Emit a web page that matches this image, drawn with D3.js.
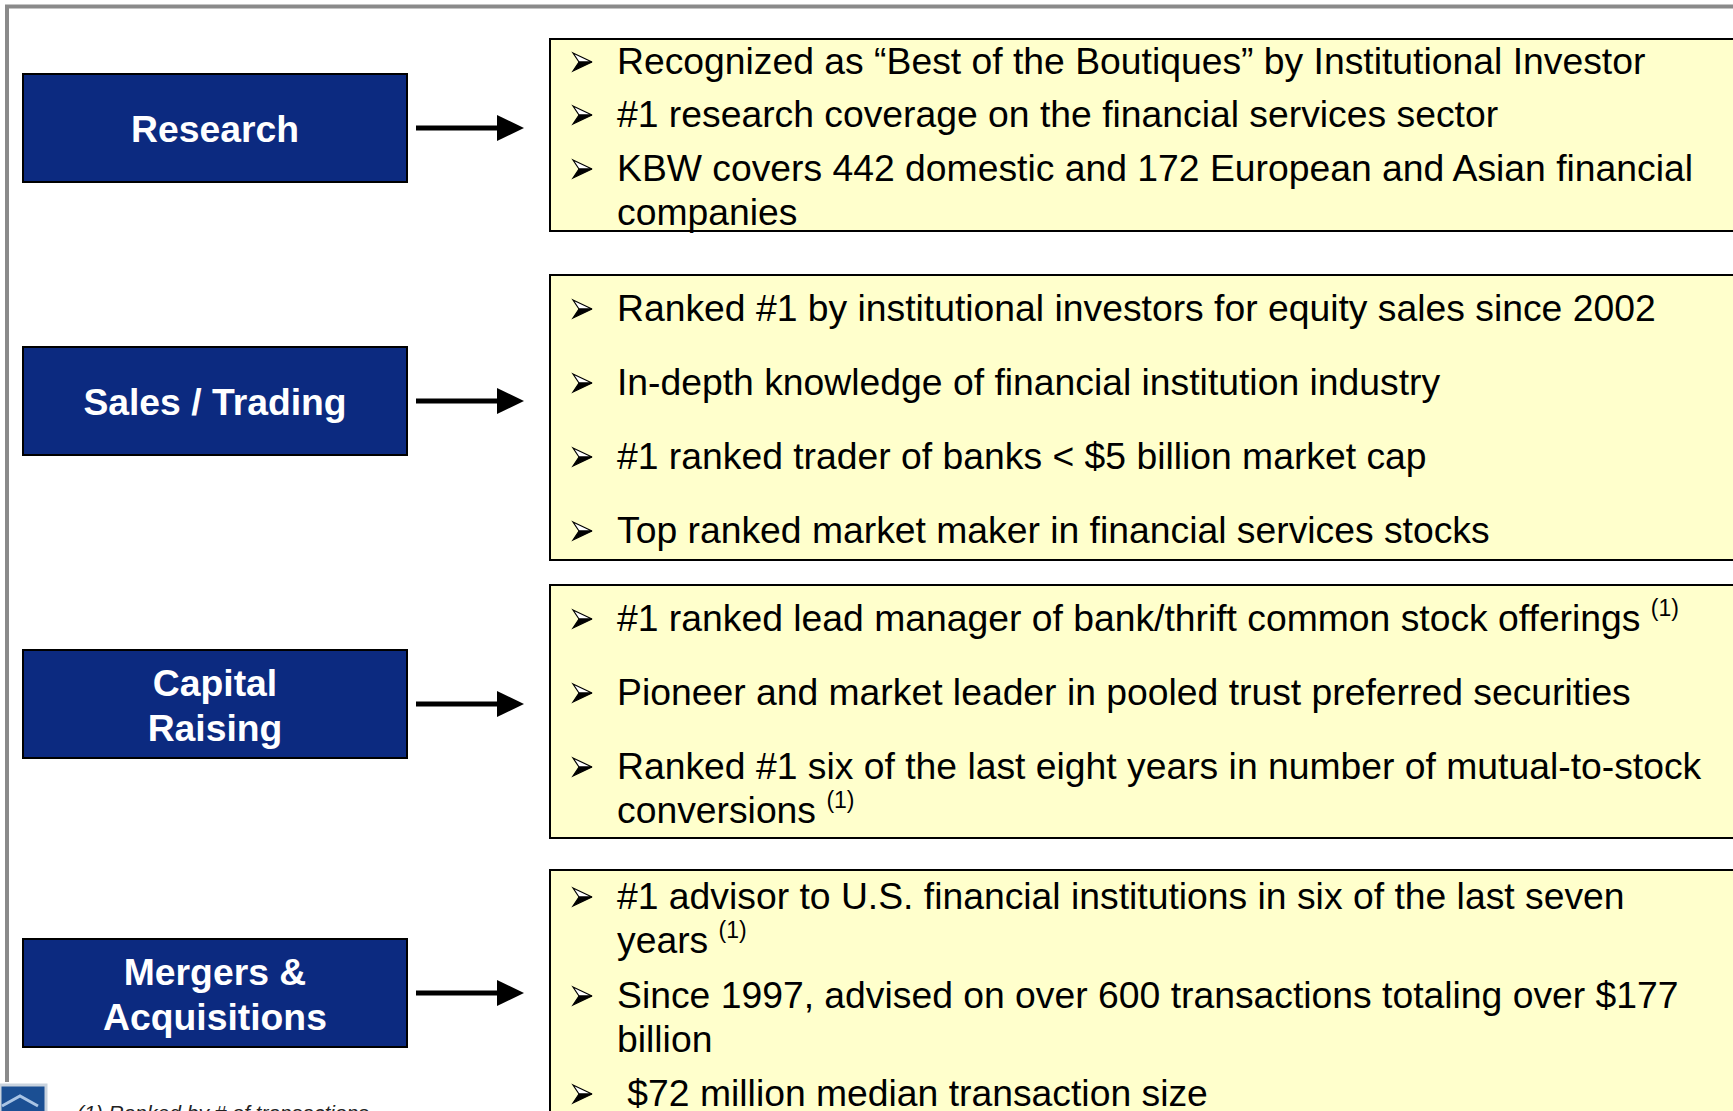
<!DOCTYPE html>
<html>
<head>
<meta charset="utf-8">
<script src="https://cdn.jsdelivr.net/npm/d3@7"></script>
<style>
  body { margin: 0; background: #fff; }
  svg { display: block; font-family: "Liberation Sans", Arial, sans-serif; }
  text { white-space: pre; }
</style>
</head>
<body>
<div id="chart"></div>
<script>
// Business lines (left boxes), one label line per entry
var categories = [
  ['Research'],
  ['Sales / Trading'],
  ['Capital', 'Raising'],
  ['Mergers &', 'Acquisitions']
]

// Bullet points for each business line, already wrapped like the slide.
// '^' marks a footnote superscript
var researchBullets = [
  ['Recognized as \u201cBest of the Boutiques\u201d by Institutional Investor'],
  ['#1 research coverage on the financial services sector'],
  ['KBW covers 442 domestic and 172 European and Asian financial', 'companies']
]
var salesBullets = [
  ['Ranked #1 by institutional investors for equity sales since 2002'],
  ['In-depth knowledge of financial institution industry'],
  ['#1 ranked trader of banks < $5 billion market cap'],
  ['Top ranked market maker in financial services stocks']
]
var capitalBullets = [
  ['#1 ranked lead manager of bank/thrift common stock offerings ^(1)'],
  ['Pioneer and market leader in pooled trust preferred securities'],
  ['Ranked #1 six of the last eight years in number of mutual-to-stock', 'conversions ^(1)']
]
var mergersBullets = [
  ['#1 advisor to U.S. financial institutions in six of the last seven', 'years ^(1)'],
  ['Since 1997, advised on over 600 transactions totaling over $177', 'billion'],
  [' $72 million median transaction size']
]
var footnote = '(1) Ranked by # of transactions'

// ---- layout (pixels) ----
var width = 1733
var height = 1111
var boxX = 23, boxW = 384, boxH = 108
var boxTops = [74, 347, 650, 939]
var panelX = 550
var panelTops = [39, 275, 585, 870]
var panelBottoms = [231, 560, 838, 1140]
var bulletX = 573, textX = 617
var fontSize = 37.3
var lineGap = 44
// baseline of the first line of every bullet
var itemBaselines = [
  [74, 127, 181],
  [321, 395, 469, 543],
  [631, 705, 779],
  [909, 1008, 1106]
]

var groups = [researchBullets, salesBullets, capitalBullets, mergersBullets]

var svg = d3
  .select('#chart')
  .append('svg')
  .attr('width', width)
  .attr('height', height)

// grey frame
svg.append('line')
  .attr('x1', 5).attr('x2', width).attr('y1', 6.5).attr('y2', 6.5)
  .attr('stroke', '#8a8a8a').attr('stroke-width', 4)
svg.append('line')
  .attr('x1', 7).attr('x2', 7).attr('y1', 5).attr('y2', 1082)
  .attr('stroke', '#8a8a8a').attr('stroke-width', 4)

var rows = svg.selectAll('g.row')
  .data(categories)
  .enter()
  .append('g')
  .attr('class', 'row')

// yellow panels
rows.append('rect')
  .attr('x', panelX)
  .attr('y', (d, i) => panelTops[i])
  .attr('width', width)
  .attr('height', (d, i) => panelBottoms[i] - panelTops[i])
  .attr('fill', '#ffffcc')
  .attr('stroke', '#000')
  .attr('stroke-width', 2)

// blue boxes
rows.append('rect')
  .attr('x', boxX)
  .attr('y', (d, i) => boxTops[i])
  .attr('width', boxW)
  .attr('height', boxH)
  .attr('fill', '#0c2a80')
  .attr('stroke', '#000')
  .attr('stroke-width', 2)

rows.each(function(d, i) {
  var g = d3.select(this)
  var cy = boxTops[i] + boxH / 2
  var t = g.append('text')
    .attr('text-anchor', 'middle')
    .attr('fill', '#fff')
    .attr('font-weight', 'bold')
    .attr('font-size', fontSize)
  d.forEach((line, j) => {
    t.append('tspan')
      .attr('x', boxX + boxW / 2)
      .attr('y', cy + 14 + (j - (d.length - 1) / 2) * 45)
      .text(line)
  })

  // arrow
  g.append('line')
    .attr('x1', 416).attr('x2', 500)
    .attr('y1', cy).attr('y2', cy)
    .attr('stroke', '#000').attr('stroke-width', 5)
  g.append('path')
    .attr('d', `M497,${cy - 13} L524,${cy} L497,${cy + 13} Z`)
    .attr('fill', '#000')

  // bullets
  groups[i].forEach((item, k) => {
    var base = itemBaselines[i][k]
    var by = base - 12
    g.append('path')
      .attr('d', `M${bulletX},${by - 9} L${bulletX + 19},${by} L${bulletX + 6},${by} Z`)
      .attr('fill', '#fff').attr('stroke', '#000').attr('stroke-width', 1.2)
    g.append('path')
      .attr('d', `M${bulletX},${by + 9} L${bulletX + 19},${by} L${bulletX + 6},${by} Z`)
      .attr('fill', '#000').attr('stroke', '#000').attr('stroke-width', 1.2)
    item.forEach((line, j) => {
      var parts = line.split('^')
      var t = g.append('text')
        .attr('x', textX)
        .attr('y', base + j * lineGap)
        .attr('font-size', fontSize)
        .attr('fill', '#000')
      t.append('tspan').text(parts[0])
      if (parts[1]) {
        t.append('tspan')
          .attr('font-size', 23)
          .attr('dy', -15)
          .text(parts[1])
      }
    })
  })
})

// logo corner
var logo = svg.append('g')
logo.append('rect')
  .attr('x', 0).attr('y', 1085).attr('width', 46).attr('height', 40)
  .attr('fill', '#1b4f93').attr('stroke', '#c9d3de').attr('stroke-width', 3)
logo.append('path')
  .attr('d', 'M2,1106 L20,1096 L38,1106')
  .attr('fill', 'none').attr('stroke', '#a9c4e4').attr('stroke-width', 3)

// footnote (cut by the page edge, as on the slide)
svg.append('text')
  .attr('x', 77)
  .attr('y', 1120)
  .attr('font-size', 21)
  .attr('font-style', 'italic')
  .attr('fill', '#222')
  .text(footnote)
</script>
</body>
</html>
